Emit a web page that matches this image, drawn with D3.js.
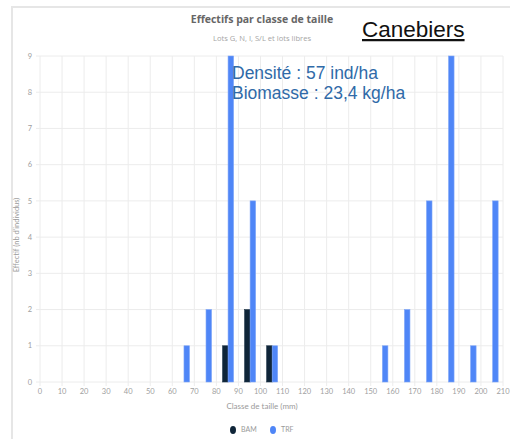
<!DOCTYPE html>
<html>
<head>
<meta charset="utf-8">
<script src="https://cdn.jsdelivr.net/npm/d3@7"></script>
<style>
  html, body { margin: 0; padding: 0; background: #fff; }
  svg { display: block; }
</style>
</head>
<body>
<svg id="chart" width="510" height="439"></svg>
<script>
// Size classes (mm) and counts per gear
const classes = [65, 75, 85, 95, 105, 155, 165, 175, 185, 195, 205];
const seriesNames = ["BAM", "TRF"];
const bamValues = [0, 0, 1, 2, 1, 0, 0, 0, 0, 0, 0];
const trfValues = [1, 2, 9, 5, 1, 1, 2, 5, 9, 1, 5];
const xTicks = d3.range(0, 211, 10);
const yTicks = d3.range(0, 10, 1);
const colors = { BAM: "#0f2538", TRF: "#4f86f7" };

const svg = d3.select("#chart");
const plot = { left: 40, right: 503, top: 56, bottom: 382 };

// outer card frame
svg.append("rect").attr("x", 12).attr("y", 7).attr("width", 520).attr("height", 450)
  .attr("fill", "#fff").attr("stroke", "#e6e6e6").attr("stroke-width", 2);

const x = d3.scaleLinear().domain([0, 210]).range([plot.left, plot.right]);
const y = d3.scaleLinear().domain([0, 9]).range([plot.bottom, plot.top]);
// offset of each series inside a size class, in mm
const sub = d3.scaleBand().domain(seriesNames).range([-2.2, 2.8]).padding(0);

// gridlines
const g = svg.append("g");
g.selectAll(".hg").data(yTicks).join("line")
  .attr("x1", plot.left - 4).attr("x2", plot.right)
  .attr("y1", d => y(d)).attr("y2", d => y(d))
  .attr("stroke", "#ececec").attr("stroke-width", 1);
g.selectAll(".vg").data(xTicks).join("line")
  .attr("x1", d => x(d)).attr("x2", d => x(d))
  .attr("y1", plot.top).attr("y2", plot.bottom + 4)
  .attr("stroke", "#ececec").attr("stroke-width", 1);

// axis labels
const tickFont = "Lato, 'Open Sans', sans-serif";
g.selectAll(".yl").data(yTicks).join("text")
  .attr("x", 32).attr("y", d => y(d)).attr("dy", "0.35em")
  .attr("text-anchor", "end").attr("font-family", tickFont)
  .attr("font-size", 7.5).attr("fill", "#a0a0a0").text(d => d);
g.selectAll(".xl").data(xTicks).join("text")
  .attr("x", d => x(d)).attr("y", plot.bottom + 12)
  .attr("text-anchor", "middle").attr("font-family", tickFont)
  .attr("font-size", 7.5).attr("fill", "#a0a0a0").text(d => d);

// bars
const rows = classes.map((c, i) => ({ c, BAM: bamValues[i], TRF: trfValues[i] }));
const bars = [];
rows.forEach(r => seriesNames.forEach(s => { if (r[s] > 0) bars.push({ c: r.c, s, v: r[s] }); }));
svg.append("g").selectAll("rect").data(bars).join("rect")
  .attr("x", d => x(d.c + sub(d.s)))
  .attr("width", d => x(d.c + sub(d.s) + sub.bandwidth()) - x(d.c + sub(d.s)))
  .attr("y", d => y(d.v))
  .attr("height", d => y(0) - y(d.v))
  .attr("fill", d => colors[d.s])
  .attr("stroke", d => d.s === "TRF" ? "#7ea6f8" : "#1c3347")
  .attr("stroke-width", 0.6);

// titles
svg.append("text").attr("x", 262).attr("y", 23).attr("text-anchor", "middle")
  .attr("font-family", "'Open Sans', Lato, sans-serif").attr("font-weight", 700)
  .attr("font-size", 10.5).attr("fill", "#666").text("Effectifs par classe de taille");
svg.append("text").attr("x", 262).attr("y", 41).attr("text-anchor", "middle")
  .attr("font-family", "'Open Sans', Lato, sans-serif").attr("font-size", 7.6).attr("fill", "#a5a5a5")
  .text("Lots G, N, I, S/L et lots libres");

svg.append("text").attr("x", 362).attr("y", 37)
  .attr("font-family", "'Liberation Sans', Arial, sans-serif").attr("font-size", 22.5)
  .attr("fill", "#111").attr("text-decoration", "underline").text("Canebiers");

svg.append("text").attr("x", 232).attr("y", 79)
  .attr("font-family", "'Liberation Sans', Arial, sans-serif").attr("font-size", 17.5)
  .attr("fill", "#2f6aa8").text("Densité : 57 ind/ha");
svg.append("text").attr("x", 232).attr("y", 99)
  .attr("font-family", "'Liberation Sans', Arial, sans-serif").attr("font-size", 17.5)
  .attr("fill", "#2f6aa8").text("Biomasse : 23,4 kg/ha");

// axis titles
svg.append("text").attr("transform", "translate(19,235) rotate(-90)")
  .attr("text-anchor", "middle").attr("font-family", tickFont)
  .attr("font-size", 7.5).attr("fill", "#9a9a9a").text("Effectif (nb d'individus)");
svg.append("text").attr("x", 262).attr("y", 409).attr("text-anchor", "middle")
  .attr("font-family", tickFont).attr("font-size", 8).attr("fill", "#9a9a9a")
  .text("Classe de taille (mm)");

// legend
const legX = d3.scalePoint().domain(seriesNames).range([233, 273]);
const leg = svg.append("g").selectAll("g").data(seriesNames).join("g")
  .attr("transform", d => `translate(${legX(d)},430)`);
leg.append("ellipse").attr("rx", 3).attr("ry", 4).attr("fill", d => colors[d]);
leg.append("text").attr("x", 8).attr("dy", "0.35em").attr("font-family", tickFont)
  .attr("font-size", 7).attr("fill", "#9a9a9a").text(d => d);
</script>
</body>
</html>
